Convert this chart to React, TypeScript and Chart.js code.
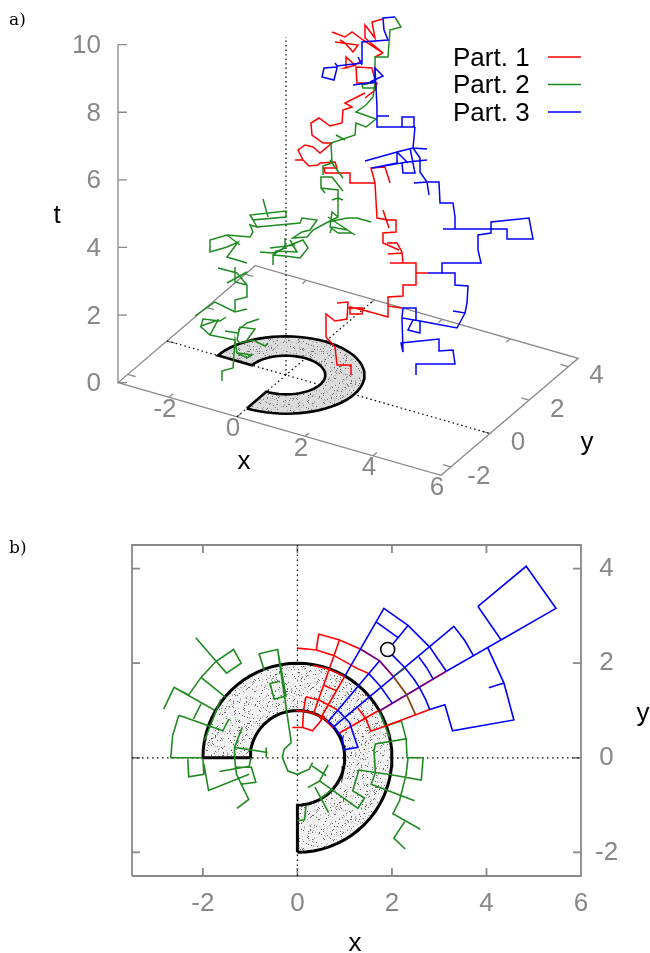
import React, { useEffect, useRef } from "react";
import { Chart, registerables } from "chart.js";

Chart.register(...registerables);

type Path = number[][];

const RED = "#ff0000";
const GREEN = "#1f8a1f";
const BLUE = "#0000ff";
const GRAY = "#888888";
const FONT = "Liberation Sans";

const seriesNames = ["Part. 1", "Part. 2", "Part. 3"];
const seriesColors = [RED, GREEN, BLUE];

const xTicks = [-2, 0, 2, 4, 6];
const yTicks = [-2, 0, 2, 4];
const tTicks = [0, 2, 4, 6, 8, 10];
const xRange = [-3.5, 6];
const yRange = [-2.5, 4.5];
const tRange = [0, 10];

const ringAngles = [
  -90, -85, -80, -75, -70, -65, -60, -55, -50, -45, -40, -35, -30, -25, -20, -15, -10, -5, 0, 5, 10, 15, 20, 25, 30,
  35, 40, 45, 50, 55, 60, 65, 70, 75, 80, 85, 90, 95, 100, 105, 110, 115, 120, 125, 130, 135, 140, 145, 150, 155, 160,
  165, 170, 175, 180,
];
const ringInner = 1;
const ringOuter = 2;

// Fixed speck positions for the stippled ring's texture tile
const stippleX = [2, 7, 12, 19, 25, 30, 4, 10, 16, 22, 28, 1, 8, 14, 20, 26, 31, 5, 11, 18, 23, 29, 3, 9, 15, 21, 27, 0, 6, 13, 17, 24, 30, 2, 8, 12, 19, 26, 5, 10, 16, 22, 28, 3, 7, 14, 20, 25, 31, 1, 9, 15, 23, 29, 4, 11, 18, 27, 6, 13];
const stippleY = [1, 3, 0, 2, 4, 1, 6, 8, 5, 7, 6, 10, 11, 9, 12, 10, 9, 14, 13, 15, 14, 12, 18, 16, 17, 19, 16, 21, 20, 22, 20, 23, 21, 25, 24, 26, 25, 27, 29, 28, 30, 29, 31, 31, 27, 29, 31, 26, 28, 14, 3, 11, 6, 18, 22, 19, 3, 13, 9, 16];

// Panel a: trajectories read in the projected view plane of the 3D plot
const part1View: Path[] = [
  [[351, 375], [351, 365], [337, 365], [335, 347], [326, 337], [326, 314], [335, 321], [347, 319], [348, 302], [337, 303]],
  [[348, 308], [363, 308], [362, 314], [350, 314], [350, 307], [363, 310], [388, 317], [388, 297], [403, 296], [403, 285], [416, 285], [416, 263], [390, 263]],
  [[416, 273], [428, 273]],
  [[388, 306], [402, 308]],
  [[403, 263], [402, 252], [397, 243], [387, 243]],
  [[402, 253], [388, 254]],
  [[399, 250], [383, 243], [383, 233], [396, 232], [396, 220], [388, 220], [377, 218], [375, 183], [350, 183], [350, 173], [325, 173], [324, 168], [337, 168], [335, 162], [320, 163], [318, 165], [309, 166], [303, 160], [298, 150], [305, 145], [313, 147], [320, 153], [332, 143], [323, 143], [312, 135], [311, 123], [319, 118], [330, 126], [342, 123], [343, 110], [352, 107], [345, 103], [357, 97], [365, 93]],
  [[303, 160], [295, 160]],
  [[383, 210], [389, 228]],
  [[375, 183], [371, 168], [385, 167], [390, 183]],
  [[365, 98], [375, 90], [377, 83], [357, 83], [356, 67], [372, 68], [375, 80]],
  [[356, 65], [345, 68], [346, 57], [355, 65], [362, 60]],
  [[383, 53], [365, 38], [365, 25], [375, 38], [372, 22], [383, 19]],
  [[332, 32], [345, 37], [352, 32], [363, 40], [383, 53]],
  [[335, 42], [358, 45], [353, 52], [345, 43], [340, 40]],
  [[375, 57], [383, 53]],
];

const part2View: Path[] = [
  [[222, 381], [222, 371], [233, 368], [235, 340], [237, 353], [247, 358], [252, 355], [238, 353]],
  [[268, 343], [265, 346], [253, 340], [240, 343], [237, 340], [238, 335], [240, 327], [255, 329], [247, 340]],
  [[238, 330], [247, 323], [259, 319]],
  [[225, 331], [238, 333]],
  [[235, 340], [210, 335], [218, 320], [201, 326], [203, 319], [220, 321], [226, 317]],
  [[210, 335], [200, 326]],
  [[195, 316], [215, 302], [235, 312], [247, 309]],
  [[235, 312], [235, 300], [247, 297], [247, 285], [237, 273], [218, 268]],
  [[227, 283], [247, 272]],
  [[235, 267], [235, 282], [247, 285]],
  [[247, 263], [227, 257], [238, 242], [227, 247], [210, 252], [210, 240], [227, 235], [250, 237], [253, 232], [250, 225], [257, 227], [253, 220], [286, 217], [286, 211], [250, 215], [253, 220]],
  [[227, 235], [240, 245]],
  [[263, 199], [268, 217]],
  [[257, 227], [300, 223], [302, 218], [317, 220], [310, 230], [302, 232], [293, 238], [307, 237], [313, 230], [328, 222], [338, 217], [338, 198], [332, 200]],
  [[338, 198], [343, 200]],
  [[285, 238], [285, 248]],
  [[270, 248], [295, 245]],
  [[273, 253], [260, 252]],
  [[273, 265], [273, 255], [285, 247], [303, 240], [308, 248], [300, 258], [285, 256], [273, 255]],
  [[275, 251], [297, 252], [290, 240]],
  [[273, 253], [285, 248]],
  [[338, 217], [332, 212], [330, 227], [338, 233], [352, 233]],
  [[328, 217], [355, 235]],
  [[328, 222], [347, 218], [357, 218], [371, 222]],
  [[330, 233], [332, 227], [347, 230]],
  [[338, 198], [338, 190], [321, 188], [321, 177], [332, 177], [343, 191]],
  [[321, 188], [325, 193]],
  [[323, 175], [323, 166], [332, 163], [337, 170], [343, 178]],
  [[330, 160], [337, 170]],
  [[332, 163], [331, 143], [355, 135], [356, 123], [366, 127], [376, 119], [356, 112], [366, 105], [373, 97], [375, 82], [362, 85], [363, 88], [375, 88]],
  [[336, 135], [345, 140]],
  [[375, 82], [375, 57], [388, 57], [390, 30], [401, 27], [395, 17]],
];

const part3View: Path[] = [
  [[395, 17], [383, 18], [384, 30], [388, 40], [362, 42], [362, 63], [337, 66], [335, 63]],
  [[337, 66], [337, 68], [334, 80], [322, 77], [324, 68], [337, 67]],
  [[358, 57], [362, 65]],
  [[353, 85], [375, 82], [375, 68], [383, 76], [370, 82]],
  [[375, 68], [377, 107], [377, 127], [415, 127], [414, 117], [402, 117], [402, 127]],
  [[377, 116], [389, 116]],
  [[415, 127], [413, 148], [427, 149]],
  [[413, 148], [397, 152], [365, 161]],
  [[397, 152], [397, 163], [372, 168]],
  [[372, 168], [407, 162], [427, 160]],
  [[397, 152], [408, 163]],
  [[402, 163], [403, 173], [415, 173], [410, 148]],
  [[413, 148], [420, 158], [420, 172], [427, 182], [414, 183]],
  [[427, 182], [429, 195]],
  [[427, 182], [439, 182], [440, 203], [453, 203], [455, 217], [455, 229], [443, 229]],
  [[455, 229], [491, 229], [491, 222], [529, 218], [533, 239], [507, 239], [507, 229], [491, 229], [491, 233], [478, 235], [478, 250], [481, 263], [442, 263], [442, 273], [428, 273]],
  [[442, 273], [455, 273], [455, 285], [468, 286], [467, 303], [465, 313], [453, 311]],
  [[465, 313], [457, 328], [420, 321], [402, 318], [403, 308], [416, 308], [416, 320]],
  [[402, 318], [403, 352], [401, 343], [439, 339], [439, 351], [453, 350], [455, 364], [416, 364], [416, 375]],
  [[420, 321], [420, 333], [408, 330], [413, 320]],
];

// Panel b: trajectories in (x, y)
const part1Plane: Path[] = [
  [[0.45, 2.62], [0.89, 2.49], [1.33, 2.3]],
  [[0.45, 2.62], [0.4, 2.28], [-0.01, 2.32]],
  [[0.4, 2.28], [0.78, 2.16], [1.28, 1.88], [1.5, 1.79]],
  [[0.89, 2.49], [0.34, 0.93]],
  [[1, 1.72], [0.48, 0.82]],
  [[0.34, 1.95], [0.66, 1.88], [1, 1.72]],
  [[0.57, 1.53], [0.82, 1.42]],
  [[0.18, 1.29], [0.48, 1.21], [0.85, 1.01]],
  [[0.18, 1.29], [0.13, 1.01], [0.11, 0.64], [0.32, 0.57], [0.47, 0.75], [0.57, 0.89]],
  [[-0.11, 0.64], [0.11, 0.64]],
  [[-0.03, 1], [0.25, 0.97], [0.54, 0.85], [0.75, 0.64]],
  [[0.88, 0.52], [1.72, 1]],
  [[1.28, 1.05], [1.45, 0.82], [1.55, 0.56], [1.88, 0.68], [2.8, 1.02]],
];
const part2Plane: Path[] = [
  [[1.88, 0.68], [2.2, 0.78], [2.3, 0.4], [1.65, 0.29], [1.62, 0.15], [1.65, -0.31], [1.56, -0.56], [2.48, -0.91]],
  [[2.3, 0.4], [2.32, 0], [2.66, 0], [2.62, -0.47], [1.98, -0.36], [1.3, -0.26], [1.17, -0.7], [1.42, -0.85], [1.28, -1.07], [0.47, -0.49], [0.22, -0.63]],
  [[2.66, 0], [2.34, 0], [2.3, -0.35], [2.16, -0.91], [2.02, -1.18], [2.6, -1.51]],
  [[2.27, -1.35], [2.04, -1.7], [2.28, -1.93]],
  [[0.47, -0.49], [0.65, -0.15]],
  [[0.31, -0.17], [0.61, -0.38]],
  [[0.37, -0.62], [0.66, -1.16]],
  [[0.18, -1.02], [0.15, -1.31], [0, -1.33]],
  [[0.47, -0.88], [0.75, -0.66]],
  [[-0.13, 0.32], [-0.28, 0.18], [-0.32, 0.01], [-0.2, -0.28], [0, -0.35], [0.25, -0.24], [0.32, -0.1]],
  [[-0.13, 0.32], [-0.42, 2.29], [-0.81, 2.2], [-0.7, 1.84]],
  [[-0.42, 2.29], [-0.24, 1.31], [-0.49, 1.24], [-0.58, 1.57], [-0.37, 1.62]],
  [[-2.15, 2.54], [-1.72, 2.04], [-1.5, 1.79], [-1.19, 2], [-1.35, 2.29], [-1.72, 2.04], [-2.04, 1.7], [-2.3, 1.33]],
  [[-2.04, 1.7], [-1.53, 1.29]],
  [[-2.3, 1.33], [-2.61, 1.49], [-2.83, 1.03]],
  [[-2.61, 1.49], [-1.76, 1.01]],
  [[-2.04, 1.14], [-2.2, 0.82]],
  [[-2.51, 0.9], [-1.58, 0.57], [-1.45, 0.82]],
  [[-2.51, 0.9], [-2.64, 0.47], [-2.68, 0], [-2, 0]],
  [[-1.17, 0.64], [-1.33, 0.22], [-1.33, 0], [-1.29, -0.35], [-1.03, -0.88], [-1.28, -1.07]],
  [[-1.33, 0.22], [-0.63, 0.11]],
  [[-0.66, 0.22], [-0.66, 0]],
  [[-0.98, -0.2], [-1.33, -0.2]],
  [[-2.32, -0.03], [-2.3, -0.4], [-1.98, -0.35], [-2, -0.03]],
  [[-1.98, -0.13], [-1.88, -0.69], [-1.02, -0.35]],
  [[-1.21, -0.56], [-0.88, -0.52], [-0.98, -0.18]],
  [[-1.65, -0.29], [-1.02, -0.18], [-0.98, 0]],
  [[1.74, 0.96], [1.95, 0.43]],
  [[-1.97, 0.36], [-1.62, 1.24]],
];
const part3Plane: Path[] = [
  [[3.82, 3.2], [4.84, 4.05], [5.47, 3.16], [4.31, 2.49], [3.82, 3.2]],
  [[5.47, 3.16], [3.15, 1.83]],
  [[4.03, 2.32], [4.37, 1.58], [4.58, 0.8], [3.28, 0.57], [3.12, 1.12], [2.8, 1.02], [2.71, 1.24], [2.58, 1.49], [2.46, 1.67], [2.28, 1.9], [2.02, 2.16], [1.91, 2.29]],
  [[4.37, 1.58], [4.05, 1.48]],
  [[1.91, 2.29], [2.02, 2.41], [2.13, 2.54], [2.34, 2.8]],
  [[1, 1.72], [1.83, 3.16], [2.34, 2.8], [2.8, 2.34], [3.15, 1.83]],
  [[1.67, 2.87], [2.13, 2.54]],
  [[0.77, 0.66], [3.31, 2.78], [3.54, 2.48], [3.73, 2.15]],
  [[2.57, 2.13], [2.73, 1.91], [2.87, 1.67]],
  [[1.5, 1.79], [1.74, 1.53], [2.01, 1.15]],
  [[1.74, 2.05], [0.66, 0.78]],
  [[0.85, 1.01], [1.1, 0.75], [1.28, 0.22], [0.98, 0.17], [0.95, 0.43], [0.77, 0.66], [0.64, 0.78]],
];
const redBlueRetrace: Path[] = [
  [[1.33, 2.3], [1.74, 2.05], [2.03, 1.72]],
  [[1.75, 1], [3.15, 1.83]],
];
const redGreenRetrace: Path[] = [
  [[2.03, 1.72], [2.3, 1.35], [2.5, 0.91]],
  [[2.03, 1.72], [2.28, 1.9]],
];
const marker = [1.91, 2.29];

const toPoints = (paths: Path[]) =>
  paths.flatMap((p) => [...p.map(([x, y]) => ({ x, y })), { x: NaN, y: NaN }]);

const ringPolar = (): Path => [
  ...ringAngles.map((a) => [ringOuter, a]),
  ...[...ringAngles].reverse().map((a) => [ringInner, a]),
  [ringOuter, ringAngles[0]],
];
const ringPlane = () =>
  ringPolar().map(([r, a]) => ({ x: r * Math.cos((a * Math.PI) / 180), y: r * Math.sin((a * Math.PI) / 180) }));

const project = (x: number, y: number, t: number) => ({
  x: 286 + 34 * x + 19.6 * y,
  y: 375 + 9.75 * x - 16.7 * y - 33.8 * t,
});

// Texture tile: the fixed specks, sheared and re-paired per quadrant so no lattice or streak shows
const makeStipple = (ctx: CanvasRenderingContext2D, base: string, dark: string, light: string) => {
  const tile = document.createElement("canvas");
  tile.width = 64;
  tile.height = 64;
  const c = tile.getContext("2d")!;
  c.fillStyle = base;
  c.fillRect(0, 0, 64, 64);
  const n = stippleX.length;
  [7, 11, 13, 17].forEach((step, q) => {
    const ox = (q % 2) * 32;
    const oy = (q >> 1) * 32;
    stippleX.forEach((x, i) => {
      const yDark = stippleY[(i * step) % n];
      const xDark = (x + yDark * (q + 3)) % 32;
      const xLight = (stippleY[(i * (step + 12)) % n] + x * (q + 5)) % 32;
      c.fillStyle = light;
      c.fillRect(ox + xLight, oy + x, 1, 1);
      c.fillStyle = dark;
      c.fillRect(ox + xDark, oy + yDark, 1, 1);
    });
  });
  return ctx.createPattern(tile, "repeat")!;
};

const polyline = (data: any[], color: string, width: number, order: number, extra: object = {}) => ({
  data,
  borderColor: color,
  backgroundColor: color,
  borderWidth: width,
  pointRadius: 0,
  showLine: true,
  spanGaps: false,
  tension: 0,
  fill: false,
  clip: false,
  order,
  ...extra,
});

const drawText = (
  ctx: CanvasRenderingContext2D,
  text: string,
  x: number,
  y: number,
  color: string,
  font: string,
  align: CanvasTextAlign = "center"
) => {
  ctx.save();
  ctx.font = font;
  ctx.fillStyle = color;
  ctx.textAlign = align;
  ctx.textBaseline = "middle";
  ctx.fillText(text, x, y + 1.5);
  ctx.restore();
};

const labelFont = `26px "${FONT}"`;
const panelFont = '17px "DejaVu Serif"';

export default function App() {
  const refA = useRef<HTMLCanvasElement>(null);
  const refB = useRef<HTMLCanvasElement>(null);

  useEffect(() => {
    const ctxA = refA.current!.getContext("2d")!;
    const ctxB = refB.current!.getContext("2d")!;

    const [x0, x1] = xRange;
    const [y0, y1] = yRange;
    const [t0, t1] = tRange;

    const frame3d = [
      [project(x0, y0, 0), project(x1, y0, 0), project(x1, y1, 0), project(x0, y1, 0), project(x0, y0, 0), project(x0, y0, t1)],
      ...xTicks.flatMap((v) => [
        [project(v, y0, 0), project(v, y0 + 0.2, 0)],
        [project(v, y1, 0), project(v, y1 - 0.2, 0)],
      ]),
      ...yTicks.flatMap((v) => [
        [project(x1, v, 0), project(x1 - 0.23, v, 0)],
        [project(x0, v, 0), project(x0 + 0.23, v, 0)],
      ]),
      ...tTicks.map((v) => {
        const p = project(x0, y0, v);
        return [p, { x: p.x + 9, y: p.y }];
      }),
    ].flatMap((seg) => [...seg, { x: NaN, y: NaN }]);

    const dotted3d = [
      project(x0, 0, 0), project(x1, 0, 0), { x: NaN, y: NaN },
      project(0, y0, 0), project(0, y1, 0), { x: NaN, y: NaN },
      project(0, 0, t0), project(0, 0, t1),
    ];

    const chartA = new Chart(ctxA, {
      type: "scatter",
      data: {
        datasets: [
          polyline(toPoints(part3View), BLUE, 1.5, 1),
          polyline(toPoints(part2View), GREEN, 1.5, 2),
          polyline(toPoints(part1View), RED, 1.5, 3),
          polyline(
            ringPlane().map((p) => project(p.x, p.y, 0)),
            "#000000",
            2.6,
            4,
            { fill: "shape", backgroundColor: makeStipple(ctxA, "#dcdcdc", "#6a6a6a", "#a8a8a8") }
          ),
          polyline(dotted3d, "#000000", 1.2, 5, { borderDash: [1.5, 3] }),
          polyline(frame3d, GRAY, 1.3, 6),
        ] as any,
      },
      options: {
        animation: false,
        responsive: false,
        layout: { padding: 0 },
        plugins: { legend: { display: false }, tooltip: { enabled: false } },
        scales: {
          x: { type: "linear", display: false, min: 0, max: 650 },
          y: { type: "linear", display: false, min: 0, max: 500, reverse: true },
        },
      },
      plugins: [
        {
          id: "annotationsA",
          afterDraw(chart: any) {
            const c = chart.ctx as CanvasRenderingContext2D;
            drawText(c, "a)", 9, 19, "#000000", panelFont, "left");
            tTicks.forEach((v) => {
              const p = project(x0, y0, v);
              drawText(c, String(v), 101, p.y, GRAY, labelFont, "right");
            });
            xTicks.forEach((v) => {
              const p = project(v, y0, 0);
              drawText(c, String(v), p.x - 4, p.y + 11, GRAY, labelFont);
            });
            yTicks.forEach((v) => {
              const p = project(x1, v, 0);
              drawText(c, String(v), p.x + 28, p.y + 8, GRAY, labelFont);
            });
            drawText(c, "t", 57, 214, "#000000", labelFont);
            drawText(c, "x", 244, 460, "#000000", labelFont);
            drawText(c, "y", 587, 441, "#000000", labelFont);
            seriesNames.forEach((name, i) => {
              const y = 57 + i * 27.5;
              drawText(c, name, 453, y, "#000000", labelFont, "left");
              c.save();
              c.strokeStyle = seriesColors[i];
              c.lineWidth = 1.3;
              c.beginPath();
              c.moveTo(548, y);
              c.lineTo(581, y);
              c.stroke();
              c.restore();
            });
          },
        },
      ],
    } as any);

    const tickLen = 0.17;
    const frame2d = [
      [{ x: x0, y: y0 }, { x: x1, y: y0 }, { x: x1, y: y1 }, { x: x0, y: y1 }, { x: x0, y: y0 }],
      ...xTicks.flatMap((v) => [
        [{ x: v, y: y0 }, { x: v, y: y0 + tickLen }],
        [{ x: v, y: y1 }, { x: v, y: y1 - tickLen }],
      ]),
      ...yTicks.flatMap((v) => [
        [{ x: x0, y: v }, { x: x0 + tickLen, y: v }],
        [{ x: x1, y: v }, { x: x1 - tickLen, y: v }],
      ]),
    ].flatMap((seg) => [...seg, { x: NaN, y: NaN }]);

    const dotted2d = [
      { x: x0, y: 0 }, { x: x1, y: 0 }, { x: NaN, y: NaN },
      { x: 0, y: y0 }, { x: 0, y: y1 },
    ];

    const chartB = new Chart(ctxB, {
      type: "scatter",
      data: {
        datasets: [
          {
            data: [{ x: marker[0], y: marker[1] }],
            pointRadius: 7,
            pointBackgroundColor: "#ffffff",
            pointBorderColor: "#000000",
            pointBorderWidth: 1.6,
            showLine: false,
            clip: false,
            order: 0,
          },
          polyline(toPoints(redGreenRetrace), "rgba(31,138,31,0.55)", 1.6, 1),
          polyline(toPoints(redBlueRetrace), "rgba(0,0,255,0.55)", 1.6, 1),
          polyline(toPoints(part3Plane), BLUE, 1.6, 2),
          polyline(toPoints(redBlueRetrace), RED, 1.6, 3),
          polyline(toPoints(redGreenRetrace), RED, 1.6, 3),
          polyline(toPoints(part2Plane), GREEN, 1.6, 4),
          polyline(toPoints(part1Plane), RED, 1.6, 3),
          polyline(ringPlane(), "#000000", 3, 5, {
            fill: "shape",
            backgroundColor: makeStipple(ctxB, "#f2f2f2", "#666666", "#b4b4b4"),
          }),
          polyline(dotted2d, "#000000", 1.2, 6, { borderDash: [1.5, 3.5] }),
          polyline(frame2d, GRAY, 1.8, 7),
        ] as any,
      },
      options: {
        animation: false,
        responsive: false,
        layout: { padding: { left: 132, top: 45, right: 0, bottom: 0 } },
        plugins: { legend: { display: false }, tooltip: { enabled: false } },
        scales: {
          x: {
            type: "linear",
            position: "bottom",
            min: x0,
            max: x1,
            grid: { display: false },
            border: { display: false },
            afterBuildTicks: (s: any) => {
              s.ticks = xTicks.map((value) => ({ value }));
            },
            afterFit: (s: any) => {
              s.height = 77;
              s.paddingLeft = 0;
              s.paddingRight = 0;
            },
            ticks: { color: GRAY, font: { family: FONT, size: 26 }, padding: 4, autoSkip: false, maxRotation: 0 },
          },
          y: {
            type: "linear",
            position: "right",
            min: y0,
            max: y1,
            grid: { display: false },
            border: { display: false },
            afterBuildTicks: (s: any) => {
              s.ticks = yTicks.map((value) => ({ value }));
            },
            afterFit: (s: any) => {
              s.width = 69;
            },
            ticks: { color: GRAY, font: { family: FONT, size: 26 }, padding: 6, autoSkip: false, crossAlign: "center" },
          },
        },
      },
      plugins: [
        {
          id: "annotationsB",
          afterDraw(chart: any) {
            const c = chart.ctx as CanvasRenderingContext2D;
            drawText(c, "b)", 9, 47, "#000000", panelFont, "left");
            drawText(c, "x", 355, 442, "#000000", labelFont);
            drawText(c, "y", 643, 212, "#000000", labelFont);
          },
        },
      ],
    } as any);

    return () => {
      chartA.destroy();
      chartB.destroy();
    };
  }, []);

  return (
    <div style={{ position: "absolute", left: 0, top: 0, width: 650, height: 953, overflow: "hidden", background: "#fff" }}>
      <canvas ref={refA} width={650} height={500} style={{ position: "absolute", left: 0, top: 0, display: "block" }} />
      <canvas ref={refB} width={650} height={453} style={{ position: "absolute", left: 0, top: 500, display: "block" }} />
    </div>
  );
}
